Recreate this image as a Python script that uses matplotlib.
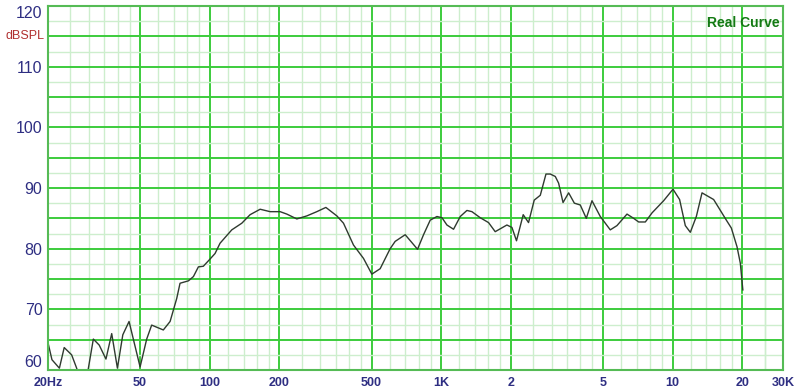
import matplotlib
matplotlib.use("Agg")
import matplotlib.pyplot as plt
from matplotlib.ticker import NullFormatter

plt.rcParams['font.family'] = ['Liberation Sans', 'DejaVu Sans']

# frequency response (Hz, dBSPL)
freq = [20, 20.8, 22.4, 23.5, 25.3, 26.6, 27.2, 29.2, 29.8, 31.4, 33.3, 35.6, 37.7,
        39.9, 42.1, 44.8, 50.0, 53.4, 56.1, 63.0, 67.4, 72.0, 74.4, 80.9, 85.0,
        89.3, 93.8, 99.8, 105.4, 110.8, 124.5, 137.6, 149.4, 165.1, 182.3, 201.4,
        215.3, 237.8, 262.7, 290.2, 317.5, 354.2, 378.3, 417.9, 461.6, 501.7,
        545.0, 602.0, 632.7, 699.1, 747.3, 790.3, 839.1, 896.7, 958.6, 1008,
        1059, 1131, 1209, 1292, 1358, 1475, 1602, 1712, 1923, 2022, 2116, 2262,
        2385, 2524, 2681, 2837, 2961, 3113, 3217, 3362, 3555, 3763, 3991, 4237,
        4485, 4870, 5380, 5749, 6353, 6787, 7133, 7624, 8151, 9146, 10041,
        10723, 11350, 11930, 12665, 13403, 15045, 15970, 17074, 17944, 18989,
        19622, 20120]
spl = [64.5, 61.7, 60.3, 63.7, 62.5, 60.3, 59.0, 58.8, 60.0, 65.1, 64.1, 61.8, 66.0,
       60.3, 65.8, 68.0, 60.5, 65.1, 67.4, 66.6, 68.0, 71.8, 74.3, 74.7, 75.4,
       77.0, 77.1, 78.2, 79.2, 80.9, 83.1, 84.2, 85.6, 86.5, 86.1, 86.1,
       85.7, 84.9, 85.4, 86.1, 86.8, 85.4, 84.2, 80.6, 78.4, 75.8,
       76.7, 80.0, 81.2, 82.3, 81.0, 79.9, 82.3, 84.7, 85.3, 85.1,
       83.9, 83.2, 85.3, 86.3, 86.1, 85.1, 84.3, 82.8, 83.9, 83.5, 81.3, 85.6,
       84.3, 88.0, 88.8, 92.3, 92.3, 91.9, 90.8, 87.6, 89.2, 87.5, 87.2, 85.0,
       87.9, 85.3, 83.1, 83.8, 85.7, 85.0, 84.4, 84.4, 85.9, 87.9, 89.8,
       88.1, 83.8, 82.7, 85.3, 89.2, 88.1, 86.5, 84.7, 83.4, 80.3,
       77.6, 73.2]

x_ticks = [20, 50, 100, 200, 500, 1000, 2000, 5000, 10000, 20000, 30000]
x_labels = ['20Hz', '50', '100', '200', '500', '1K', '2', '5', '10', '20', '30K']
y_ticks = [60, 65, 70, 75, 80, 85, 90, 95, 100, 105, 110, 115, 120]
y_labels = ['60', '', '70', '', '80', '', '90', '', '100', '', '110', '', '120']

major_c = '#3ccc3c'
minor_c = '#cdeecd'
label_c = '#2e2e82'

fig = plt.figure(figsize=(8, 3.89), dpi=100, facecolor='white')
ax = fig.add_axes([48 / 800, 19 / 389, 735 / 800, 364 / 389])
ax.set_xscale('log')
ax.set_xlim(20, 30000)
ax.set_ylim(60, 120)

# minor log grid: 1-2 step .2, 2-5 step .5, 5-10 step 1 per decade
minor_x = []
for dec in [10, 100, 1000, 10000]:
    for m in [1.2, 1.4, 1.6, 1.8, 2.5, 3, 3.5, 4, 4.5, 6, 7, 8, 9]:
        v = m * dec
        if 20 < v < 30000:
            minor_x.append(v)
minor_x += [25000]

ax.set_xticks(x_ticks)
ax.set_xticklabels(x_labels)
ax.set_xticks(minor_x, minor=True)
ax.xaxis.set_minor_formatter(NullFormatter())
ax.set_yticks(y_ticks)
ax.set_yticklabels(y_labels)
ax.set_yticks([60 + 2.5 * i for i in range(25)], minor=True)
ax.yaxis.set_minor_formatter(NullFormatter())

ax.grid(which='minor', color=minor_c, lw=1.0)
ax.grid(which='major', color=major_c, lw=1.4)
ax.set_axisbelow(True)
ax.tick_params(which='both', length=0)
ax.tick_params(axis='x', pad=5, labelsize=9, labelcolor=label_c)
ax.tick_params(axis='y', pad=4, labelsize=11.5, labelcolor=label_c)
for t in ax.get_xticklabels():
    t.set_fontweight('bold')
for t in ax.get_yticklabels():
    if t.get_text() == '120':
        t.set_va('top')
    elif t.get_text() == '60':
        t.set_va('bottom')

for s in ax.spines.values():
    s.set_color('#55bb55')
    s.set_linewidth(1.5)

ax.plot(freq, spl, color='#2f3a2f', lw=1.0)

ax.text(-0.005, 115, 'dBSPL', transform=ax.get_yaxis_transform(), ha='right',
        va='center', color='#b03030', fontsize=9)
ax.text(0.995, 0.973, 'Real Curve', transform=ax.transAxes, ha='right', va='top',
        color='#137a13', fontsize=10, fontweight='bold')

fig.savefig('out.png', dpi=100, facecolor='white')
